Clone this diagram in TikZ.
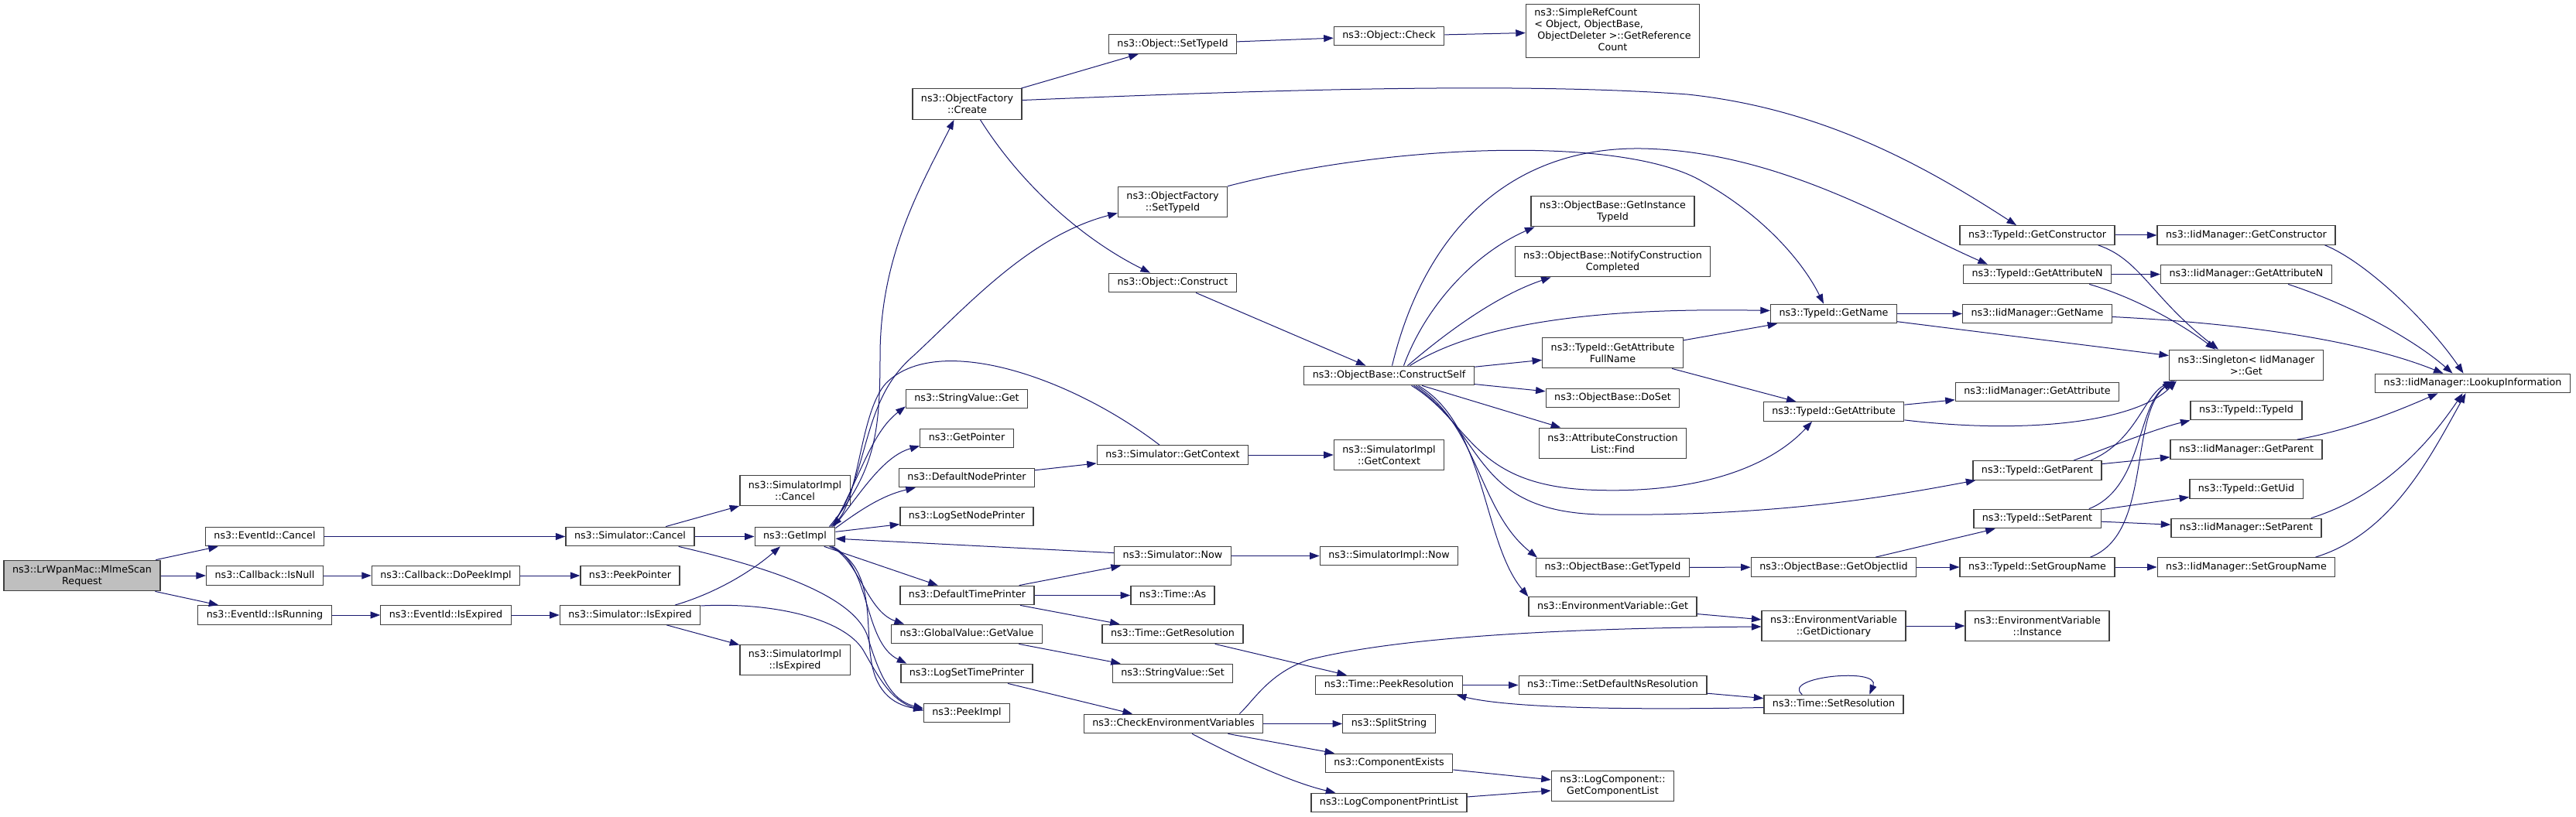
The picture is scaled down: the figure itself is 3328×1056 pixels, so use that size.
\documentclass[tikz,border=0pt]{standalone}
\usepackage{fontspec}
\setmainfont{DejaVu Sans}
\usetikzlibrary{arrows.meta,calc}
\definecolor{edgecol}{HTML}{191970}
\definecolor{boxcol}{HTML}{404040}
\definecolor{rootfill}{HTML}{BFBFBF}
\newcommand{\dxfont}{\fontsize{12.7}{15}\selectfont}
\begin{document}
\begin{tikzpicture}[x=1pt,y=-1pt,
  fn/.style={draw=boxcol,line width=1.3pt,fill=white,inner xsep=11pt,inner ysep=2pt,minimum height=24.5pt,text height=9.6pt,text depth=3pt,font=\dxfont},
  fm/.style={draw=boxcol,line width=1.3pt,fill=white,inner xsep=11pt,inner ysep=3pt,minimum height=39.5pt,align=center,font=\dxfont},
  froot/.style={fm,fill=rootfill},
  callarrow/.style={draw=edgecol,line width=1pt,-{Triangle[length=12.5pt,width=9pt]}}]
\fill[white] (0,0) rectangle (3328,1056);
\useasboundingbox (0,0) rectangle (3328,1056);
% nodes
\node[froot] (mlme) at (106,744) {ns3::LrWpanMac::MlmeScan\\Request};
\node[fn] (evcancel) at (342,693.5) {ns3::EventId::Cancel};
\node[fn] (cbisnull) at (342,744) {ns3::Callback::IsNull};
\node[fn] (evisrunning) at (342,795) {ns3::EventId::IsRunning};
\node[fn] (cbdopeek) at (576,744) {ns3::Callback::DoPeekImpl};
\node[fn] (evisexpired) at (576,795) {ns3::EventId::IsExpired};
\node[fn] (simcancel) at (814,693.5) {ns3::Simulator::Cancel};
\node[fn] (peekpointer) at (814,744) {ns3::PeekPointer};
\node[fn] (simisexpired) at (814,795) {ns3::Simulator::IsExpired};
\node[fm] (simimplcancel) at (1027,634) {ns3::SimulatorImpl\\::Cancel};
\node[fn] (getimpl) at (1027,693.5) {ns3::GetImpl};
\node[fm] (simimplisexpired) at (1027,853) {ns3::SimulatorImpl\\::IsExpired};
\node[fm] (ofcreate) at (1249.5,134.5) {ns3::ObjectFactory\\::Create};
\node[fn] (svget) at (1249,515.5) {ns3::StringValue::Get};
\node[fn] (getpointer) at (1249,566.5) {ns3::GetPointer};
\node[fn] (defnodeprinter) at (1249,617.5) {ns3::DefaultNodePrinter};
\node[fn] (logsetnodeprinter) at (1249,667.5) {ns3::LogSetNodePrinter};
\node[fn] (deftimeprinter) at (1249.5,769.5) {ns3::DefaultTimePrinter};
\node[fn] (gvgetvalue) at (1249,819.5) {ns3::GlobalValue::GetValue};
\node[fn] (logsettimeprinter) at (1249,870.5) {ns3::LogSetTimePrinter};
\node[fn] (peekimpl) at (1249,921.5) {ns3::PeekImpl};
\node[fn] (objsettypeid) at (1515,57) {ns3::Object::SetTypeId};
\node[fm] (ofsettypeid) at (1515,261) {ns3::ObjectFactory\\::SetTypeId};
\node[fn] (objconstruct) at (1515,365.5) {ns3::Object::Construct};
\node[fn] (simgetcontext) at (1515,588) {ns3::Simulator::GetContext};
\node[fn] (simnow) at (1515,718.5) {ns3::Simulator::Now};
\node[fn] (timeas) at (1515,769.5) {ns3::Time::As};
\node[fn] (timegetres) at (1515,819.5) {ns3::Time::GetResolution};
\node[fn] (svset) at (1515,870.5) {ns3::StringValue::Set};
\node[fn] (checkenv) at (1516,935.5) {ns3::CheckEnvironmentVariables};
\node[fn] (objcheck) at (1794.5,46.5) {ns3::Object::Check};
\node[fn] (constructself) at (1794.5,485.5) {ns3::ObjectBase::ConstructSelf};
\node[fm] (simimplgetcontext) at (1794.5,588) {ns3::SimulatorImpl\\::GetContext};
\node[fn] (simimplnow) at (1794.5,718.5) {ns3::SimulatorImpl::Now};
\node[fn] (timepeekres) at (1794.5,885.5) {ns3::Time::PeekResolution};
\node[fn] (splitstring) at (1794.5,935.5) {ns3::SplitString};
\node[fn] (compexists) at (1794.5,986.5) {ns3::ComponentExists};
\node[fn] (logcompprintlist) at (1794.5,1037.5) {ns3::LogComponentPrintList};
\node[fm,minimum height=69pt] (simplerefcount) at (2083.5,40) {\begin{tabular}{@{}l@{}}ns3::SimpleRefCount\\< Object, ObjectBase,\\\ ObjectDeleter >::GetReference\\\multicolumn{1}{@{}c@{}}{Count}\end{tabular}};
\node[fm] (getinstancetypeid) at (2083.5,273) {ns3::ObjectBase::GetInstance\\TypeId};
\node[fm] (notifyconstruction) at (2083.5,338) {ns3::ObjectBase::NotifyConstruction\\Completed};
\node[fm] (getattrfullname) at (2083.5,456) {ns3::TypeId::GetAttribute\\FullName};
\node[fn] (doset) at (2083.5,514.5) {ns3::ObjectBase::DoSet};
\node[fm] (acfind) at (2083.5,573) {ns3::AttributeConstruction\\List::Find};
\node[fn] (obgettypeid) at (2083.5,733.5) {ns3::ObjectBase::GetTypeId};
\node[fn] (envget) at (2083.5,784) {ns3::EnvironmentVariable::Get};
\node[fn] (setdefaultns) at (2083.5,885.5) {ns3::Time::SetDefaultNsResolution};
\node[fm] (getcomplist) at (2083.5,1016) {ns3::LogComponent::\\GetComponentList};
\node[fn] (tidgetname) at (2369,405.5) {ns3::TypeId::GetName};
\node[fn] (tidgetattr) at (2369,532) {ns3::TypeId::GetAttribute};
\node[fn] (getobjectiid) at (2369,733) {ns3::ObjectBase::GetObjectIid};
\node[fm] (envgetdict) at (2369,809) {ns3::EnvironmentVariable\\::GetDictionary};
\node[fn] (timesetres) at (2369,910.5) {ns3::Time::SetResolution};
\node[fn] (tidgetconstructor) at (2632,304) {ns3::TypeId::GetConstructor};
\node[fn] (tidgetattrn) at (2632,354.5) {ns3::TypeId::GetAttributeN};
\node[fn] (iidgetname) at (2632,405.5) {ns3::IidManager::GetName};
\node[fn] (iidgetattr) at (2632,506.5) {ns3::IidManager::GetAttribute};
\node[fn] (tidgetparent) at (2632,608) {ns3::TypeId::GetParent};
\node[fn] (tidsetparent) at (2632,670.5) {ns3::TypeId::SetParent};
\node[fn] (tidsetgroupname) at (2632,733) {ns3::TypeId::SetGroupName};
\node[fm] (envinstance) at (2632,809) {ns3::EnvironmentVariable\\::Instance};
\node[fn] (iidgetconstructor) at (2902,304) {ns3::IidManager::GetConstructor};
\node[fn] (iidgetattrn) at (2902,354.5) {ns3::IidManager::GetAttributeN};
\node[fm] (singleton) at (2902,472) {ns3::Singleton< IidManager\\ >::Get};
\node[fn] (tidtypeid) at (2902,530.5) {ns3::TypeId::TypeId};
\node[fn] (iidgetparent) at (2902,581) {ns3::IidManager::GetParent};
\node[fn] (tidgetuid) at (2902,632) {ns3::TypeId::GetUid};
\node[fn] (iidsetparent) at (2902,682.5) {ns3::IidManager::SetParent};
\node[fn] (iidsetgroupname) at (2902,733) {ns3::IidManager::SetGroupName};
\node[fn] (lookup) at (3194.5,495.5) {ns3::IidManager::LookupInformation};
% straight edges
\draw[callarrow] (mlme) -- (evcancel);
\draw[callarrow] (mlme) -- (cbisnull);
\draw[callarrow] (mlme) -- (evisrunning);
\draw[callarrow] (evcancel) -- (simcancel);
\draw[callarrow] (cbisnull) -- (cbdopeek);
\draw[callarrow] (cbdopeek) -- (peekpointer);
\draw[callarrow] (evisrunning) -- (evisexpired);
\draw[callarrow] (evisexpired) -- (simisexpired);
\draw[callarrow] (simcancel) -- (simimplcancel);
\draw[callarrow] (simcancel) -- (getimpl);
\draw[callarrow] (simisexpired) -- (simimplisexpired);
\draw[callarrow] (getimpl) -- (logsetnodeprinter);
\draw[callarrow] (getimpl) -- (deftimeprinter);
\draw[callarrow] (simnow) -- (getimpl);
\draw[callarrow] (defnodeprinter) -- (simgetcontext);
\draw[callarrow] (simgetcontext) -- (simimplgetcontext);
\draw[callarrow] (deftimeprinter) -- (simnow);
\draw[callarrow] (deftimeprinter) -- (timeas);
\draw[callarrow] (deftimeprinter) -- (timegetres);
\draw[callarrow] (gvgetvalue) -- (svset);
\draw[callarrow] (logsettimeprinter) -- (checkenv);
\draw[callarrow] (simnow) -- (simimplnow);
\draw[callarrow] (timegetres) -- (timepeekres);
\draw[callarrow] (timepeekres) -- (setdefaultns);
\draw[callarrow] (setdefaultns) -- (timesetres);
\draw[callarrow] (checkenv) -- (splitstring);
\draw[callarrow] (checkenv) -- (compexists);
\draw[callarrow] (compexists) -- (getcomplist);
\draw[callarrow] (logcompprintlist) -- (getcomplist);
\draw[callarrow] (ofcreate) -- (objsettypeid);
\draw[callarrow] (objsettypeid) -- (objcheck);
\draw[callarrow] (objcheck) -- (simplerefcount);
\draw[callarrow] (objconstruct) -- (constructself);
\draw[callarrow] (constructself) -- (getattrfullname);
\draw[callarrow] (constructself) -- (doset);
\draw[callarrow] (constructself) -- (acfind);
\draw[callarrow] (getattrfullname) -- (tidgetname);
\draw[callarrow] (getattrfullname) -- (tidgetattr);
\draw[callarrow] (tidgetname) -- (iidgetname);
\draw[callarrow] (tidgetname) -- (singleton);
\draw[callarrow] (tidgetconstructor) -- (iidgetconstructor);
\draw[callarrow] (tidgetattrn) -- (iidgetattrn);
\draw[callarrow] (tidgetattr) -- (iidgetattr);
\draw[callarrow] (tidgetparent) -- (iidgetparent);
\draw[callarrow] (tidsetparent) -- (tidgetuid);
\draw[callarrow] (tidsetparent) -- (iidsetparent);
\draw[callarrow] (obgettypeid) -- (getobjectiid);
\draw[callarrow] (getobjectiid) -- (tidsetparent);
\draw[callarrow] (getobjectiid) -- (tidsetgroupname);
\draw[callarrow] (tidsetgroupname) -- (iidsetgroupname);
\draw[callarrow] (envget) -- (envgetdict);
\draw[callarrow] (envgetdict) -- (envinstance);
% curved edges around GetImpl
\draw[callarrow] ($(getimpl.north east)+(-8,0)$) .. controls (1130,610) and (1137,560) .. (1137,460) .. controls (1137,330) and (1190,240) .. ($(ofcreate.south)+(-17,0)$);
\draw[callarrow] ($(getimpl.north east)+(-6,0)$) .. controls (1125,615) and (1110,520) .. (1180,460) .. controls (1250,395) and (1330,305) .. ($(ofsettypeid.south west)+(0,-6)$);
\draw[callarrow] ($(getimpl.north east)+(-4,0)$) .. controls (1110,620) and (1125,560) .. ($(svget.south west)+(0,-3)$);
\draw[callarrow] ($(getimpl.north east)+(-2,0)$) .. controls (1110,640) and (1140,590) .. ($(getpointer.south west)+(0,-3)$);
\draw[callarrow] ($(getimpl.north east)+(0,2)$) .. controls (1110,660) and (1140,640) .. ($(defnodeprinter.south west)+(22,0)$);
\draw[callarrow] ($(simgetcontext.north)+(-17,0)$) .. controls (1380,485) and (1210,430) .. (1145,495) .. controls (1112,530) and (1110,640) .. ($(getimpl.north east)+(-4,0)$);
\draw[callarrow] ($(getimpl.south east)+(-8,0)$) .. controls (1130,730) and (1118,800) .. (1125,850) .. controls (1130,890) and (1150,910) .. ($(peekimpl.west)+(0,-4)$);
\draw[callarrow] ($(getimpl.south east)+(-6,0)$) .. controls (1110,725) and (1120,790) .. ($(gvgetvalue.north west)+(17,0)$);
\draw[callarrow] ($(getimpl.south east)+(-4,0)$) .. controls (1125,730) and (1115,830) .. ($(logsettimeprinter.north west)+(8,0)$);
\draw[callarrow] ($(simcancel.south east)+(-21,0)$) .. controls (1000,735) and (1100,770) .. (1120,820) .. controls (1135,870) and (1150,905) .. ($(peekimpl.west)+(0,-6)$);
\draw[callarrow] ($(simisexpired.east)+(0,-12)$) .. controls (1000,778) and (1090,800) .. (1115,840) .. controls (1135,875) and (1150,905) .. ($(peekimpl.west)+(0,-3)$);
\draw[callarrow] ($(simisexpired.north)+(58,0)$) .. controls (930,765) and (975,735) .. ($(getimpl.south)+(-19,0)$);
% ObjectFactory
\draw[callarrow] ($(ofcreate.east)+(0,-5)$) .. controls (1600,118) and (1950,105) .. (2180,122) .. controls (2350,140) and (2480,210) .. ($(tidgetconstructor.north)+(-27,0)$);
\draw[callarrow] ($(ofcreate.south)+(17,0)$) .. controls (1320,240) and (1400,310) .. ($(objconstruct.north west)+(54,0)$);
\draw[callarrow] (ofsettypeid.north east) .. controls (1800,185) and (2100,175) .. (2200,235) .. controls (2280,280) and (2330,340) .. ($(tidgetname.north)+(-13,0)$);
% ConstructSelf
\draw[callarrow] ($(constructself.north)+(19,0)$) .. controls (1840,400) and (1900,330) .. ($(getinstancetypeid.south west)+(5,0)$);
\draw[callarrow] ($(constructself.north)+(24,0)$) .. controls (1880,420) and (1940,380) .. ($(notifyconstruction.south west)+(47,0)$);
\draw[callarrow] ($(constructself.north)+(4,0)$) .. controls (1840,300) and (1950,190) .. (2120,192) .. controls (2300,195) and (2450,290) .. ($(tidgetattrn.north west)+(32,0)$);
\draw[callarrow] ($(constructself.north)+(27,0)$) .. controls (1920,410) and (2100,398) .. ($(tidgetname.west)+(0,-4)$);
\draw[callarrow] ($(constructself.south)+(29,0)$) .. controls (1900,545) and (1900,625) .. (2050,633) .. controls (2200,640) and (2290,600) .. ($(tidgetattr.south)+(-28,0)$);
\draw[callarrow] ($(constructself.south)+(32,0)$) .. controls (1920,560) and (1900,660) .. (2066,665) .. controls (2300,668) and (2450,640) .. ($(tidgetparent.south west)+(4,0)$);
\draw[callarrow] ($(constructself.south)+(35,0)$) .. controls (1910,550) and (1910,660) .. ($(obgettypeid.north west)+(2,0)$);
\draw[callarrow] ($(constructself.south)+(38,0)$) .. controls (1920,550) and (1915,700) .. (envget.north west);
% environment / time
\draw[callarrow] ($(checkenv.north east)+(-31,0)$) .. controls (1620,905) and (1640,870) .. (1690,853) .. controls (1800,825) and (2000,812) .. ($(envgetdict.west)+(0,1)$);
\draw[callarrow] ($(checkenv.south)+(24,0)$) .. controls (1600,980) and (1670,1012) .. ($(logcompprintlist.north west)+(32,0)$);
\draw[callarrow] ($(timesetres.west)+(0,4)$) .. controls (2100,918) and (1950,915) .. ($(timepeekres.south east)+(-8,0)$);
\draw[callarrow] ($(timesetres.north west)+(50,0)$) .. controls (2300,875) and (2430,862) .. ($(timesetres.north west)+(137,0)$);
% TypeId / IidManager
\draw[callarrow] ($(tidgetconstructor.south east)+(-22,0)$) .. controls (2765,335) and (2780,385) .. ($(singleton.north)+(-36,0)$);
\draw[callarrow] ($(tidgetattrn.south east)+(-29,0)$) .. controls (2760,385) and (2820,420) .. ($(singleton.north)+(-40,0)$);
\draw[callarrow] ($(iidgetconstructor.south east)+(-14,0)$) .. controls (3060,340) and (3140,420) .. ($(lookup.north)+(-12,0)$);
\draw[callarrow] ($(iidgetattrn.south east)+(-57,0)$) .. controls (3040,395) and (3120,440) .. ($(lookup.north)+(-26,0)$);
\draw[callarrow] ($(iidgetname.east)+(0,4)$) .. controls (2900,418) and (3050,440) .. ($(lookup.north)+(-38,0)$);
\draw[callarrow] ($(tidgetattr.south east)+(0,-2)$) .. controls (2620,562) and (2760,545) .. ($(singleton.south west)+(10,0)$);
\draw[callarrow] ($(tidgetparent.north east)+(-15,0)$) .. controls (2760,570) and (2770,510) .. ($(singleton.south west)+(6,0)$);
\draw[callarrow] ($(tidgetparent.north)+(47,0)$) .. controls (2740,572) and (2790,553) .. (tidtypeid.south west);
\draw[callarrow] ($(tidsetparent.north east)+(-16,0)$) .. controls (2770,630) and (2760,520) .. ($(singleton.south west)+(8,0)$);
\draw[callarrow] ($(tidsetgroupname.north east)+(-32,0)$) .. controls (2780,690) and (2750,540) .. ($(singleton.south west)+(4,0)$);
\draw[callarrow] ($(iidgetparent.north east)+(-33,0)$) .. controls (3040,555) and (3100,530) .. ($(lookup.south)+(-45,0)$);
\draw[callarrow] ($(iidsetparent.north east)+(-14,0)$) .. controls (3080,640) and (3140,570) .. ($(lookup.south)+(-13,0)$);
\draw[callarrow] ($(iidsetgroupname.north east)+(-26,0)$) .. controls (3090,690) and (3140,590) .. ($(lookup.south)+(-9,0)$);
\end{tikzpicture}
\end{document}
